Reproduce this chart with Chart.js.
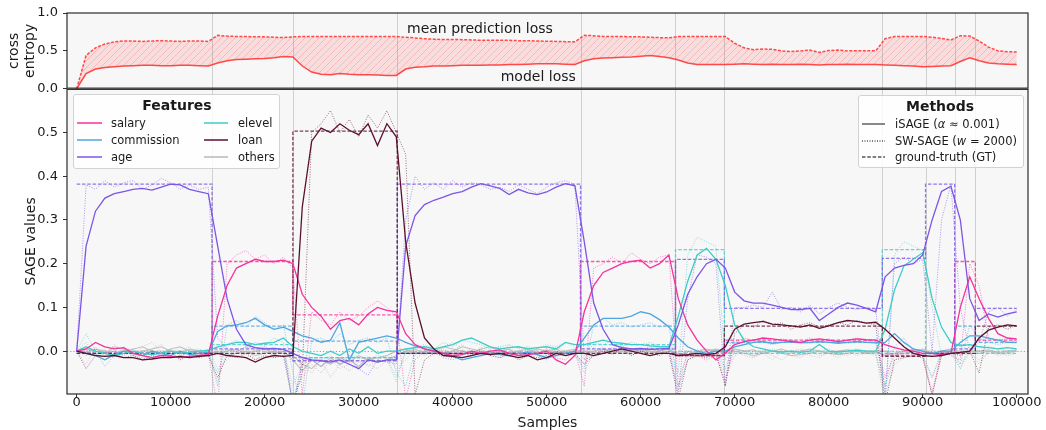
<!DOCTYPE html>
<html>
<head>
<meta charset="utf-8">
<script src="https://cdn.jsdelivr.net/npm/chart.js@4.4.1/dist/chart.umd.min.js"></script>
<style>
html,body{margin:0;padding:0;background:#fff;}
#wrap{position:relative;width:1046px;height:430px;overflow:hidden;font-family:"DejaVu Sans",sans-serif;color:#1a1a1a;}
#c{position:absolute;left:0;top:0;}
.leg{position:absolute;background:rgba(255,255,255,0.82);border:1px solid #d2d2d2;border-radius:3px;box-sizing:border-box;}
.lt{position:absolute;font-weight:bold;font-size:14px;line-height:16px;transform:translateX(-50%);white-space:nowrap;}
.li{position:absolute;font-size:11.5px;line-height:14px;white-space:nowrap;}
.ls{position:absolute;overflow:visible;}
</style>
</head>
<body>
<div id="wrap">
<canvas id="c" width="1046" height="430"></canvas>
<div class="leg" id="legF" style="left:73px;top:94px;width:207px;height:75px;"></div>
<div class="leg" id="legM" style="left:858px;top:95px;width:166px;height:73px;"></div>
</div>
<script>
// ---------------- data ----------------
const samples = [0,1000,2000,3000,4000,5000,6000,7000,8000,9000,10000,11000,12000,13000,14000,15000,16000,17000,18000,19000,20000,21000,22000,23000,24000,25000,26000,27000,28000,29000,30000,31000,32000,33000,34000,35000,36000,37000,38000,39000,40000,41000,42000,43000,44000,45000,46000,47000,48000,49000,50000,51000,52000,53000,54000,55000,56000,57000,58000,59000,60000,61000,62000,63000,64000,65000,66000,67000,68000,69000,70000,71000,72000,73000,74000,75000,76000,77000,78000,79000,80000,81000,82000,83000,84000,85000,86000,87000,88000,89000,90000,91000,92000,93000,94000,95000,96000,97000,98000,99000,100000];
const xTicks = [0,10000,20000,30000,40000,50000,60000,70000,80000,90000,100000];
const yTopTicks = [0, 0.5, 1.0];
const yBotTicks = [0, 0.1, 0.2, 0.3, 0.4, 0.5];
const driftPoints = [14400, 23000, 34100, 53600, 63700, 68900, 85700, 90300, 93400, 95600];

// top panel
const modelLoss = [0.0,0.2,0.26,0.28,0.29,0.3,0.305,0.31,0.31,0.305,0.305,0.31,0.31,0.305,0.3,
 0.34,0.37,0.385,0.39,0.395,0.4,0.41,0.425,
 0.42,0.3,0.22,0.19,0.185,0.2,0.19,0.185,0.185,0.18,0.175,
 0.175,0.26,0.285,0.29,0.3,0.3,0.305,0.31,0.31,0.31,0.315,0.315,0.32,0.32,0.325,0.33,0.33,0.33,0.325,0.32,
 0.37,0.395,0.405,0.41,0.415,0.42,0.43,0.44,0.425,0.41,
 0.38,0.34,0.32,0.32,0.32,
 0.32,0.325,0.33,0.325,0.32,0.325,0.32,0.32,0.325,0.32,0.315,0.32,0.32,0.325,0.32,0.32,0.32,
 0.315,0.31,0.305,0.3,0.29,
 0.295,0.3,0.305,
 0.36,0.41,
 0.37,0.34,0.33,0.325,0.32];
const meanPredLoss = [0.0,0.44,0.54,0.59,0.62,0.63,0.63,0.625,0.63,0.635,0.63,0.625,0.63,0.63,0.625,
 0.705,0.695,0.69,0.69,0.685,0.685,0.68,0.675,
 0.685,0.69,0.69,0.69,0.69,0.69,0.69,0.69,0.69,0.69,0.69,
 0.69,0.68,0.67,0.66,0.655,0.65,0.65,0.648,0.645,0.64,0.64,0.64,0.64,0.635,0.635,0.63,0.628,0.625,0.622,0.62,
 0.705,0.7,0.69,0.69,0.69,0.685,0.685,0.68,0.675,0.672,
 0.69,0.69,0.69,0.69,0.69,
 0.69,0.6,0.54,0.515,0.525,0.52,0.5,0.49,0.5,0.51,0.48,0.505,0.51,0.5,0.5,0.5,0.5,
 0.66,0.69,0.69,0.69,0.69,
 0.68,0.665,0.645,
 0.7,0.695,
 0.63,0.55,0.5,0.49,0.485];
const annotTexts = ['mean prediction loss', 'model loss'];
const annotX = [42900, 49100];
const annotY = [0.78, 0.156];

// iSAGE (solid)
const salaryIS = [0,0.005,0.02,0.01,0.005,0.008,-0.005,-0.01,-0.015,-0.01,-0.012,-0.015,-0.012,-0.01,-0.008,
 0.08,0.15,0.19,0.2,0.21,0.205,0.205,0.208,
 0.2,0.13,0.1,0.08,0.05,0.07,0.075,0.06,0.085,0.1,0.093,
 0.09,0.04,0.015,0.005,0.0,-0.005,-0.01,-0.008,0.0,-0.005,0.0,0.003,-0.005,-0.01,-0.008,-0.005,0.0,-0.02,-0.03,-0.01,
 0.09,0.15,0.18,0.19,0.2,0.205,0.208,0.19,0.2,0.22,
 0.12,0.06,0.025,0.0,-0.02,
 -0.005,0.015,0.022,0.025,0.03,0.028,0.025,0.022,0.02,0.025,0.028,0.025,0.022,0.025,0.028,0.026,0.025,
 0.015,0.008,0.003,0.0,-0.005,
 -0.005,-0.008,-0.005,
 0.1,0.17,
 0.12,0.075,0.04,0.03,0.028];
const commissionIS = [0,-0.005,-0.01,-0.02,-0.008,0.0,-0.005,-0.01,0.0,-0.005,-0.01,0.0,-0.008,-0.005,-0.003,
 0.045,0.058,0.06,0.065,0.075,0.06,0.05,0.055,
 0.045,0.035,0.03,0.02,0.025,0.065,-0.02,0.02,0.025,0.03,0.035,
 0.03,0.02,0.012,0.005,0.0,-0.005,-0.012,-0.02,-0.015,-0.01,-0.005,-0.008,-0.01,-0.005,-0.003,-0.008,-0.015,-0.01,-0.005,0.0,
 0.03,0.06,0.075,0.075,0.075,0.08,0.09,0.085,0.072,0.055,
 0.03,0.01,0.0,-0.005,0.0,
 0.0,0.01,0.015,0.02,0.022,0.018,0.02,0.021,0.019,0.02,0.022,0.02,0.018,0.02,0.022,0.02,0.019,
 0.02,0.04,0.02,0.005,0.0,
 -0.005,0.0,0.0,
 0.02,0.035,
 0.035,0.03,0.025,0.02,0.02];
const ageIS = [0,0.24,0.32,0.35,0.36,0.365,0.37,0.372,0.368,0.375,0.382,0.38,0.37,0.365,0.36,
 0.24,0.12,0.05,0.015,0.008,0.005,0.006,0.004,
 -0.005,-0.015,-0.02,-0.022,-0.025,-0.02,-0.03,-0.04,-0.02,-0.025,-0.02,
 -0.02,0.24,0.31,0.335,0.345,0.352,0.36,0.365,0.375,0.383,0.378,0.372,0.358,0.37,0.362,0.358,0.364,0.375,0.383,0.378,
 0.25,0.11,0.05,0.015,0.008,0.005,0.006,0.004,0.005,0.006,
 0.06,0.13,0.17,0.2,0.21,
 0.19,0.135,0.115,0.11,0.11,0.105,0.1,0.095,0.095,0.098,0.07,0.085,0.1,0.11,0.105,0.098,0.09,
 0.17,0.19,0.196,0.2,0.22,
 0.3,0.365,0.377,
 0.3,0.12,
 0.07,0.085,0.078,0.085,0.09];
const elevelIS = [0,0.01,0.0,-0.005,-0.01,-0.005,0.0,-0.005,-0.008,-0.005,0.0,-0.005,-0.003,0.0,0.002,
 0.01,0.015,0.02,0.02,0.015,0.018,0.02,0.03,
 0.01,0.0,-0.005,-0.01,0.0,-0.01,0.005,-0.005,0.01,-0.005,0.0,
 0.0,0.005,0.008,0.01,0.005,0.01,0.015,0.025,0.03,0.02,0.01,0.005,0.008,0.01,0.005,0.008,0.01,0.005,0.02,0.015,
 0.015,0.02,0.025,0.02,0.018,0.015,0.015,0.012,0.01,0.01,
 0.08,0.16,0.22,0.235,0.21,
 0.15,0.06,0.025,0.01,0.005,0.0,-0.002,0.0,-0.003,0.0,0.015,0.0,-0.002,0.0,0.002,0.0,0.0,
 0.05,0.14,0.195,0.21,0.225,
 0.12,0.055,0.02,
 0.012,0.015,
 0.01,0.008,0.005,0.008,0.005];
const loanIS = [0,-0.005,-0.01,-0.012,-0.01,-0.015,-0.015,-0.02,-0.018,-0.015,-0.015,-0.012,-0.015,-0.012,-0.01,
 -0.005,-0.01,-0.012,-0.015,-0.025,-0.015,-0.01,-0.012,
 -0.01,0.33,0.48,0.51,0.5,0.52,0.505,0.495,0.52,0.47,0.52,
 0.49,0.25,0.11,0.03,0.005,-0.01,-0.012,-0.015,-0.01,-0.005,-0.008,-0.005,-0.01,-0.015,-0.01,-0.02,-0.015,-0.005,-0.01,-0.005,
 -0.005,-0.01,-0.005,0.0,0.005,0.0,-0.005,-0.01,-0.005,-0.005,
 -0.01,-0.008,-0.005,-0.008,-0.005,
 0.01,0.05,0.062,0.065,0.068,0.062,0.06,0.058,0.055,0.06,0.052,0.058,0.065,0.07,0.068,0.064,0.066,
 0.05,0.03,0.01,-0.005,-0.01,
 -0.012,-0.01,-0.005,
 -0.003,0.0,
 0.03,0.048,0.055,0.06,0.058];
const othersAIS = [0,0.005,0.0,-0.005,0.01,0.005,-0.005,0.0,0.005,0.01,0.0,-0.005,0.005,0.0,-0.005,
 0.0,-0.01,-0.005,0.0,-0.01,-0.005,0.0,-0.005,
 -0.01,-0.03,-0.04,-0.02,-0.03,-0.015,-0.025,-0.01,-0.02,-0.015,-0.01,
 0.0,0.005,-0.005,0.0,0.005,-0.005,0.0,0.01,0.005,0.0,-0.005,0.0,0.005,-0.01,0.0,0.005,0.0,-0.005,0.0,0.005,
 -0.005,0.0,0.005,-0.005,0.0,0.005,0.0,-0.005,0.0,0.005,
 -0.01,0.0,-0.005,0.0,0.005,
 0.0,0.005,0.0,0.003,-0.005,0.0,0.005,-0.003,0.0,0.005,0.0,-0.005,0.0,0.003,0.0,-0.003,0.0,
 -0.01,-0.005,0.0,0.005,0.0,
 -0.01,0.0,0.005,
 -0.005,0.0,
 0.0,0.003,-0.003,0.0,0.002];
const othersBIS = [0,-0.005,0.005,0.0,-0.01,0.0,0.005,0.01,0.0,-0.005,0.005,0.01,0.0,-0.005,0.0,
 -0.005,0.0,0.005,-0.005,0.0,0.005,-0.005,0.0,
 -0.02,-0.045,-0.02,-0.035,-0.015,-0.03,-0.02,-0.035,-0.015,-0.025,-0.02,
 -0.01,0.0,0.005,-0.005,0.0,0.01,0.005,0.0,-0.005,0.005,0.01,0.0,-0.005,0.0,0.005,-0.005,0.0,0.005,-0.005,0.0,
 0.0,-0.005,0.0,0.005,-0.005,0.0,0.005,0.0,-0.005,0.0,
 -0.005,-0.01,0.0,0.005,0.0,
 -0.005,0.0,-0.005,-0.01,-0.005,0.0,-0.005,-0.01,-0.008,-0.005,0.0,-0.005,-0.008,-0.005,0.0,-0.005,-0.003,
 0.0,-0.01,-0.005,0.0,0.005,
 -0.005,-0.01,0.0,
 0.0,-0.005,
 -0.005,0.0,-0.005,-0.003,0.0];

// SW-SAGE (dotted)
const salarySW = [0,0.0,0.005,-0.005,0.0,-0.01,0.0,-0.01,-0.02,-0.005,-0.015,-0.01,-0.005,-0.01,-0.005,
 -0.13,0.2,0.22,0.23,0.21,0.22,0.2,0.215,
 0.19,-0.1,0.09,0.07,0.06,0.09,0.07,0.08,0.1,0.115,0.1,
 0.08,-0.11,-0.02,0.0,-0.005,0.005,-0.01,0.0,-0.005,0.005,-0.01,0.0,-0.005,-0.01,0.0,-0.005,0.005,-0.015,-0.02,0.0,
 -0.08,0.19,0.2,0.215,0.2,0.225,0.21,0.2,0.215,0.22,
 -0.08,0.0,-0.01,-0.02,-0.01,
 -0.07,0.02,0.03,0.025,0.03,0.02,0.028,0.025,0.02,0.03,0.025,0.028,0.02,0.025,0.03,0.025,0.022,
 -0.06,-0.01,0.0,-0.005,-0.01,
 -0.1,0.0,-0.01,
 -0.02,0.2,
 0.15,0.03,0.025,0.028,0.025];
const commissionSW = [0,-0.01,0.0,-0.035,-0.01,0.0,-0.01,-0.015,0.0,-0.01,-0.005,-0.015,0.0,-0.01,0.0,
 -0.08,0.06,0.07,0.055,0.08,0.065,0.05,0.06,
 -0.05,-0.13,0.025,0.03,0.02,0.04,0.015,0.025,0.03,0.02,0.03,
 -0.05,-0.08,0.0,-0.01,0.0,-0.015,-0.02,-0.01,0.0,-0.01,-0.005,-0.015,-0.01,0.0,-0.005,-0.01,-0.02,-0.005,0.0,-0.01,
 -0.04,0.06,0.075,0.06,0.065,0.055,0.06,0.065,0.055,0.06,
 -0.09,-0.02,0.0,-0.01,0.005,
 -0.04,0.02,0.015,0.025,0.02,0.015,0.02,0.025,0.02,0.018,0.022,0.02,0.025,0.018,0.02,0.022,0.02,
 -0.08,0.01,0.03,0.0,-0.01,
 -0.06,0.0,0.005,
 -0.03,0.06,
 0.03,0.02,0.015,0.02,0.018];
const ageSW = [0,0.38,0.37,0.39,0.375,0.385,0.39,0.37,0.38,0.395,0.385,0.37,0.38,0.37,0.375,
 0.03,0.005,0.0,0.01,0.005,0.01,0.0,0.005,
 -0.12,-0.03,-0.02,-0.035,-0.02,-0.03,-0.015,-0.04,-0.055,-0.02,-0.025,
 -0.03,0.3,0.4,0.37,0.385,0.37,0.39,0.375,0.385,0.38,0.37,0.375,0.365,0.38,0.37,0.36,0.375,0.385,0.39,0.38,
 -0.02,-0.01,0.005,0.0,0.01,0.005,0.0,0.005,0.0,0.01,
 -0.1,0.12,0.22,0.215,0.2,
 -0.08,0.1,0.1,0.105,0.1,0.135,0.095,0.1,0.09,0.105,0.085,0.1,0.11,0.1,0.095,0.1,0.095,
 -0.1,0.2,0.215,0.2,0.21,
 0.0,0.3,0.38,
 0.1,0.0,
 0.02,0.09,0.1,0.08,0.095];
const elevelSW = [0,0.04,0.0,-0.01,0.0,-0.005,0.005,-0.01,0.0,-0.005,0.005,-0.01,0.0,0.005,-0.005,
 -0.05,0.015,0.025,0.01,0.02,0.015,0.03,0.02,
 -0.13,-0.02,-0.015,-0.02,-0.01,-0.025,-0.01,-0.015,-0.02,-0.01,-0.015,
 -0.06,0.0,0.01,0.015,0.005,0.02,0.01,0.025,0.02,0.015,0.005,0.01,0.015,0.005,0.01,0.005,0.015,0.01,0.02,0.01,
 -0.02,0.02,0.015,0.025,0.01,0.02,0.015,0.02,0.01,0.015,
 -0.05,0.22,0.26,0.25,0.24,
 -0.02,0.005,0.0,-0.005,0.0,0.005,-0.005,0.0,0.005,-0.005,0.0,0.005,-0.005,0.0,0.005,0.0,-0.005,
 -0.12,0.22,0.25,0.24,0.23,
 0.1,-0.01,0.0,
 -0.04,0.015,
 0.0,0.01,0.005,0.0,0.005];
const loanSW = [0,-0.04,-0.01,-0.02,-0.005,-0.015,-0.01,-0.02,-0.01,-0.015,-0.005,-0.02,-0.01,-0.015,-0.01,
 -0.06,-0.01,-0.015,-0.005,-0.02,-0.01,-0.015,-0.01,
 -0.12,-0.05,0.5,0.52,0.55,0.5,0.53,0.49,0.54,0.51,0.55,
 0.5,0.45,-0.1,-0.02,-0.005,-0.01,-0.015,-0.005,-0.01,0.0,-0.01,-0.015,-0.005,-0.02,-0.01,-0.015,-0.01,0.0,-0.01,-0.005,
 -0.03,-0.01,0.0,-0.005,0.005,-0.01,0.0,-0.005,-0.01,0.0,
 -0.11,-0.02,-0.01,-0.015,-0.005,
 -0.08,0.04,0.06,0.055,0.07,0.06,0.065,0.05,0.06,0.065,0.055,0.06,0.065,0.06,0.07,0.065,0.06,
 -0.12,-0.02,-0.015,-0.01,-0.015,
 -0.1,-0.01,-0.005,
 -0.01,0.0,
 -0.05,0.055,0.06,0.05,0.06];
const othersASW = [0,-0.03,0.01,-0.01,0.015,0.0,-0.01,0.01,0.02,0.0,-0.01,0.01,0.0,-0.015,0.005,
 -0.04,-0.02,0.0,-0.015,-0.005,0.01,-0.01,0.0,
 -0.1,-0.06,-0.03,-0.05,-0.02,-0.04,-0.03,-0.02,-0.035,-0.02,-0.01,
 -0.04,-0.02,0.01,0.0,-0.01,0.01,0.02,0.005,-0.01,0.01,0.0,-0.005,0.015,-0.015,0.005,0.0,-0.01,0.01,0.0,-0.005,
 -0.03,0.01,-0.005,0.01,0.0,-0.01,0.005,0.01,-0.005,0.0,
 -0.06,-0.01,0.005,-0.01,0.0,
 -0.05,0.0,-0.01,-0.015,0.0,-0.01,-0.02,-0.005,0.0,-0.01,-0.015,0.0,-0.005,-0.01,0.0,-0.005,-0.01,
 -0.08,-0.02,-0.01,0.0,-0.01,
 -0.06,-0.005,0.0,
 -0.03,-0.005,
 -0.02,-0.005,0.0,-0.01,-0.005];
const othersBSW = [0,0.02,-0.01,0.005,-0.015,0.01,0.0,-0.02,0.005,0.015,-0.005,0.0,0.01,-0.01,0.0,
 -0.07,0.0,-0.015,0.01,-0.02,0.0,-0.01,0.005,
 -0.08,-0.03,-0.05,-0.02,-0.06,-0.03,-0.045,-0.025,-0.03,-0.04,-0.02,
 -0.07,0.0,-0.01,0.01,0.005,-0.01,0.0,0.015,0.0,-0.01,0.005,0.01,-0.005,0.0,0.01,-0.01,0.005,0.0,-0.01,0.005,
 -0.05,0.0,0.01,-0.01,0.005,0.0,-0.005,0.01,0.0,-0.01,
 -0.08,-0.02,-0.01,0.0,-0.005,
 -0.06,-0.01,0.0,-0.015,-0.005,-0.02,0.0,-0.01,-0.015,0.0,-0.01,-0.005,-0.015,0.0,-0.01,-0.005,0.0,
 -0.1,-0.03,-0.015,-0.005,-0.01,
 -0.09,-0.01,-0.005,
 -0.04,0.0,
 -0.03,0.0,-0.01,-0.005,0.0];

// ground truth (dashed, piecewise constant per segment)
const gtStarts = [0, 14400, 23000, 34100, 53600, 63700, 68900, 85700, 90300, 93400, 95600];
const gtEnd = 100000;
const salaryGT = [-0.005, 0.205, 0.083, -0.005, 0.205, -0.01, 0.025, -0.01, -0.005, 0.205, 0.025];
const commissionGT = [-0.005, 0.057, 0.023, -0.005, 0.057, -0.005, 0.02, -0.005, -0.005, 0.057, 0.02];
const ageGT = [0.382, 0.005, -0.022, 0.382, 0.005, 0.21, 0.098, 0.212, 0.382, 0.005, 0.098];
const elevelGT = [-0.005, 0.015, -0.015, -0.005, 0.015, 0.232, -0.005, 0.232, -0.005, 0.015, -0.005];
const loanGT = [-0.005, -0.005, 0.503, -0.005, -0.005, -0.01, 0.057, -0.012, -0.005, -0.005, 0.057];
const othersGT = [0, 0, -0.015, 0, 0, 0, 0, 0, 0, 0, 0];

const featureNames = ['salary', 'commission', 'age', 'elevel', 'loan', 'others'];
const featureColors = ['#f5319d', '#4ea5e0', '#7c55e6', '#3dcdc8', '#5b1030', '#b8b8b8'];

// ---------------- helpers ----------------
function rgba(hex, a) {
  const n = parseInt(hex.slice(1), 16);
  return `rgba(${(n >> 16) & 255},${(n >> 8) & 255},${n & 255},${a})`;
}
function series(arr) { return arr.map((v, i) => ({x: samples[i], y: v})); }
function gtSeries(vals) {
  const pts = gtStarts.map((s, i) => ({x: s, y: vals[i]}));
  pts.push({x: gtEnd, y: vals[vals.length - 1]});
  return pts;
}
function hatch() {
  const c = document.createElement('canvas'); c.width = 7; c.height = 7;
  const g = c.getContext('2d');
  g.fillStyle = 'rgba(255,0,0,0.1)'; g.fillRect(0, 0, 7, 7);
  g.strokeStyle = 'rgba(255,80,80,0.35)'; g.lineWidth = 0.8;
  g.beginPath();
  g.moveTo(0, 7); g.lineTo(7, 0);
  g.moveTo(-1, 1); g.lineTo(1, -1);
  g.moveTo(6, 8); g.lineTo(8, 6);
  g.stroke();
  return g.createPattern(c, 'repeat');
}

const isData = [salaryIS, commissionIS, ageIS, elevelIS, loanIS];
const swData = [salarySW, commissionSW, ageSW, elevelSW, loanSW];
const gtData = [salaryGT, commissionGT, ageGT, elevelGT, loanGT];

const datasets = [];
const base = {yAxisID: 'yBot', pointRadius: 0, fill: false, tension: 0};
[4, 2, 0, 3, 1].forEach(i => datasets.push(Object.assign({}, base, {
  label: featureNames[i] + ' iSAGE', data: series(isData[i]),
  borderColor: featureColors[i], borderWidth: 1.3})));
[4, 2, 0, 3, 1].forEach(i => datasets.push(Object.assign({}, base, {
  label: featureNames[i] + ' GT', data: gtSeries(gtData[i]), stepped: 'before',
  borderColor: rgba(featureColors[i], 0.8), borderWidth: 1.3, borderDash: [3.5, 1.8]})));
[4, 2, 0, 3, 1].forEach(i => datasets.push(Object.assign({}, base, {
  label: featureNames[i] + ' SW', data: series(swData[i]),
  borderColor: rgba(featureColors[i], 0.6), borderWidth: 1, borderDash: [1, 1.5]})));
[othersAIS, othersBIS].forEach((a, k) => datasets.push(Object.assign({}, base, {
  label: 'others iSAGE ' + k, data: series(a), borderColor: rgba(featureColors[5], 0.85), borderWidth: 1.1})));
[othersASW, othersBSW].forEach((a, k) => datasets.push(Object.assign({}, base, {
  label: 'others SW ' + k, data: series(a), borderColor: rgba(featureColors[5], 0.7), borderWidth: 1, borderDash: [1, 1.5]})));
datasets.push(Object.assign({}, base, {label: 'others GT', data: gtSeries(othersGT), stepped: 'before',
  borderColor: rgba(featureColors[5], 0.8), borderWidth: 1.2, borderDash: [3.5, 1.8]}));
datasets.push({label: 'model loss', yAxisID: 'yTop', data: series(modelLoss), pointRadius: 0, fill: false,
  borderColor: 'rgba(255,55,55,0.9)', borderWidth: 1.5, tension: 0});
datasets.push({label: 'mean prediction loss', yAxisID: 'yTop', data: series(meanPredLoss), pointRadius: 0,
  fill: '-1', backgroundColor: hatch(),
  borderColor: 'rgba(255,55,55,0.9)', borderWidth: 1.5, borderDash: [3, 1.5], tension: 0});

// ---------------- plugins ----------------
const panelPlugin = {
  id: 'panels',
  beforeDraw(chart) {
    const {ctx, scales: {x, yTop, yBot}} = chart;
    ctx.save();
    ctx.fillStyle = '#f7f7f7';
    [yTop, yBot].forEach(y => ctx.fillRect(x.left, y.top, x.right - x.left, y.bottom - y.top));
    ctx.restore();
  },
  beforeDatasetsDraw(chart) {
    const {ctx, scales: {x, yTop, yBot}} = chart;
    ctx.save();
    ctx.strokeStyle = 'rgba(170,170,170,0.5)';
    ctx.lineWidth = 1;
    driftPoints.forEach(d => {
      const px = Math.round(x.getPixelForValue(d)) + 0.5;
      ctx.beginPath(); ctx.moveTo(px, yTop.top); ctx.lineTo(px, yBot.bottom); ctx.stroke();
    });
    const py = Math.round(yBot.getPixelForValue(0)) + 0.5;
    ctx.strokeStyle = 'rgba(140,140,140,0.8)';
    ctx.setLineDash([1.2, 2]);
    ctx.beginPath(); ctx.moveTo(x.left, py); ctx.lineTo(x.right, py); ctx.stroke();
    ctx.restore();
  },
  afterDatasetsDraw(chart) {
    const {ctx, scales: {x, yTop, yBot}} = chart;
    ctx.save();
    ctx.strokeStyle = '#2b2b2b';
    ctx.lineWidth = 1.2;
    ctx.strokeRect(x.left, yTop.top, x.right - x.left, yTop.bottom - yTop.top - 0.6);
    ctx.strokeRect(x.left, yBot.top + 0.6, x.right - x.left, yBot.bottom - yBot.top - 0.6);
    ctx.font = '14px "DejaVu Sans"';
    ctx.fillStyle = '#1a1a1a';
    ctx.textAlign = 'center';
    ctx.textBaseline = 'middle';
    annotTexts.forEach((t, i) => ctx.fillText(t, x.getPixelForValue(annotX[i]), yTop.getPixelForValue(annotY[i])));
    ctx.restore();
  }
};

// ---------------- chart ----------------
Chart.defaults.font.family = '"DejaVu Sans", sans-serif';
Chart.defaults.color = '#1a1a1a';
const tickGrid = {display: true, drawOnChartArea: false, drawTicks: true, tickLength: 4, tickColor: '#333', color: '#333'};

new Chart(document.getElementById('c'), {
  type: 'line',
  data: {datasets},
  options: {
    animation: false, responsive: false, maintainAspectRatio: false, devicePixelRatio: 1,
    layout: {padding: {left: 0, right: 18, top: 13, bottom: 0}},
    plugins: {legend: {display: false}, tooltip: {enabled: false}},
    scales: {
      x: {
        type: 'linear', position: 'bottom', min: -1030, max: 101200,
        afterBuildTicks: s => { s.ticks = xTicks.map(v => ({value: v})); },
        afterFit: s => { s.height = 36; },
        ticks: {autoSkip: false, maxRotation: 0, padding: -3, font: {size: 13}, callback: v => String(v)},
        grid: tickGrid, border: {display: false},
        title: {display: true, text: 'Samples', font: {size: 14, lineHeight: 1}, padding: {top: 0, bottom: 0}}
      },
      yBot: {
        type: 'linear', position: 'left', stack: 'panels', stackWeight: 4.03, min: -0.098, max: 0.6,
        afterBuildTicks: s => { s.ticks = yBotTicks.map(v => ({value: v})); },
        afterFit: s => { s.width = 67; },
        ticks: {padding: 5, font: {size: 13}, callback: v => v.toFixed(1)},
        grid: tickGrid, border: {display: false},
        title: {display: true, text: 'SAGE values', font: {size: 14, lineHeight: 1.2}, padding: {top: 22.6, bottom: 0}}
      },
      yTop: {
        type: 'linear', position: 'left', stack: 'panels', stackWeight: 1, min: 0, max: 1,
        afterBuildTicks: s => { s.ticks = yTopTicks.map(v => ({value: v})); },
        afterFit: s => { s.width = 67; },
        ticks: {padding: 5, font: {size: 13}, callback: v => v.toFixed(1)},
        grid: tickGrid, border: {display: false},
        title: {display: true, text: ['cross', 'entropy'], font: {size: 14, lineHeight: 1.1}, padding: {top: 7, bottom: 0}}
      }
    }
  },
  plugins: [panelPlugin]
});

// ---------------- legends (HTML) ----------------
const svgNS = 'http://www.w3.org/2000/svg';
function addItem(box, html, x0, x1, tx, yc, color, dash, width) {
  const svg = document.createElementNS(svgNS, 'svg');
  svg.setAttribute('class', 'ls');
  svg.setAttribute('width', x1 - x0); svg.setAttribute('height', 6);
  svg.style.left = x0 + 'px'; svg.style.top = (yc - 3) + 'px';
  const ln = document.createElementNS(svgNS, 'line');
  ln.setAttribute('x1', 0); ln.setAttribute('x2', x1 - x0);
  ln.setAttribute('y1', 3); ln.setAttribute('y2', 3);
  ln.setAttribute('stroke', color); ln.setAttribute('stroke-width', width);
  if (dash) ln.setAttribute('stroke-dasharray', dash);
  svg.appendChild(ln); box.appendChild(svg);
  const d = document.createElement('div');
  d.className = 'li'; d.style.left = tx + 'px'; d.style.top = (yc - 7) + 'px';
  d.innerHTML = html; box.appendChild(d);
}
function addTitle(box, text, cx, cy) {
  const t = document.createElement('div');
  t.className = 'lt'; t.textContent = text;
  t.style.left = cx + 'px'; t.style.top = (cy - 8) + 'px';
  box.appendChild(t);
}
const legF = document.getElementById('legF');
addTitle(legF, 'Features', 103, 10);
const rowY = [28.3, 45, 61.7];
featureNames.forEach((n, i) => {
  const col = Math.floor(i / 3), row = i % 3;
  const x0 = col ? 130 : 3, x1 = col ? 154 : 28, tx = col ? 164 : 37;
  addItem(legF, n, x0, x1, tx, rowY[row], rgba(featureColors[i], 0.75), null, 2);
});
const legM = document.getElementById('legM');
addTitle(legM, 'Methods', 81, 9.7);
const methodLabels = ['iSAGE (<i>α</i> ≈ 0.001)', 'SW-SAGE (<i>w</i> = 2000)', 'ground-truth (GT)'];
const methodDash = [null, '1,1.5', '3.5,1.8'];
const mRowY = [28, 45, 61.3];
methodLabels.forEach((m, i) => addItem(legM, m, 3, 26, 36, mRowY[i], '#555', methodDash[i], 1.4));
</script>
</body>
</html>
